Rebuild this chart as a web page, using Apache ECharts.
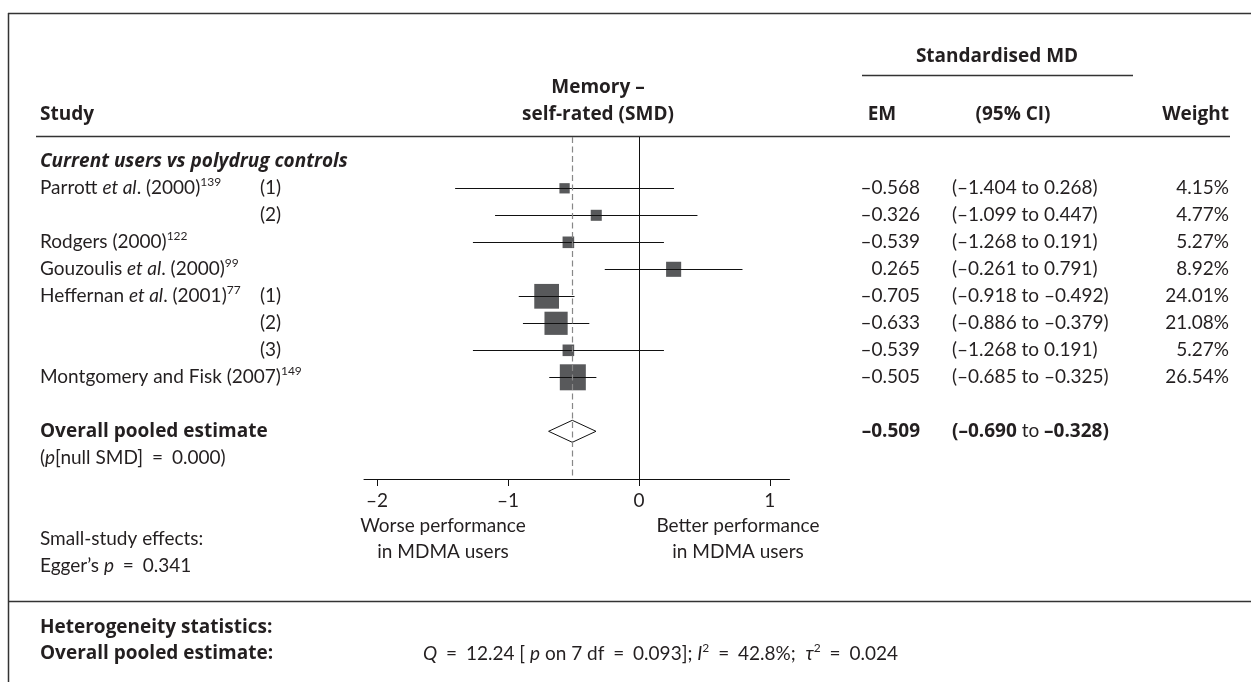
<!DOCTYPE html>
<html>
<head>
<meta charset="utf-8">
<script src="https://cdn.jsdelivr.net/npm/echarts@6/dist/echarts.min.js"></script>
<style>
html,body{margin:0;padding:0;background:#fff;}
#c{width:1251px;height:682px;}
</style>
</head>
<body>
<div id="c"></div>
<script>
// ---- data ----
var studyNames = ["Parrott ", "", "Rodgers (2000)", "Gouzoulis ", "Heffernan ", "", "", "Montgomery and Fisk (2007)"];
var studyEtAlYear = ["(2000)", "", "", "(2000)", "(2001)", "", "", ""];
var studyRefs = ["139", "", "122", "99", "77", "", "", "149"];
var studySubs = ["(1)", "(2)", "", "", "(1)", "(2)", "(3)", ""];
var estimates = [-0.568, -0.326, -0.539, 0.265, -0.705, -0.633, -0.539, -0.505];
var lowerCI = [-1.404, -1.099, -1.268, -0.261, -0.918, -0.886, -1.268, -0.685];
var upperCI = [0.268, 0.447, 0.191, 0.791, -0.492, -0.379, 0.191, -0.325];
var weights = [4.15, 4.77, 5.27, 8.92, 24.01, 21.08, 5.27, 26.54];
var pooledEstimate = [-0.509];
var pooledLower = [-0.690];
var pooledUpper = [-0.328];
var tickValues = [-2, -1, 0, 1];
var tickLabels = ["\u20132", "\u20131", "0", "1"];

var FONT = 'Lato, "Open Sans", sans-serif';
var BFONT = '"Open Sans", Lato, sans-serif';
var TXT = '#231f20';
var FS = 19;
var LH = 24;

function fmt(v){ return (v < 0 ? '\u2013' : '') + Math.abs(v).toFixed(3); }

var richBase = {
  n: {fontFamily: FONT, fontSize: FS, color: TXT, lineHeight: LH},
  e: {fontFamily: FONT, fontSize: FS, color: TXT, lineHeight: LH, padding: [0, 4, 0, 4]},
  i: {fontFamily: FONT, fontSize: FS, color: TXT, fontStyle: 'italic', lineHeight: LH},
  b: {fontFamily: BFONT, fontSize: FS, color: TXT, fontWeight: 'bold', lineHeight: LH},
  bi: {fontFamily: BFONT, fontSize: FS, color: TXT, fontWeight: 'bold', fontStyle: 'italic', lineHeight: LH},
  s: {fontFamily: FONT, fontSize: 12, color: TXT, lineHeight: 15, verticalAlign: 'top'}
};

function labelText(k){
  var t = '';
  if (!studyNames[k]) return '';
  if (studyEtAlYear[k]) {
    t = '{n|' + studyNames[k] + '}{i|et al}{n|. ' + studyEtAlYear[k] + '}';
  } else {
    t = '{n|' + studyNames[k] + '}';
  }
  if (studyRefs[k]) t += '{s|' + studyRefs[k] + '}';
  return t;
}

var rowData = estimates.map(function(e, k){ return [e, k, lowerCI[k], upperCI[k], weights[k]]; });
var pooledRow = 9;
var pooledData = [[pooledEstimate[0], pooledRow, pooledLower[0], pooledUpper[0]]];

function txt(x, y, text, align, extra){
  var st = {x: x, y: y, text: text, align: align || 'left', verticalAlign: 'middle', rich: richBase,
            fontFamily: FONT, fontSize: FS, fill: TXT};
  if (extra) for (var key in extra) st[key] = extra[key];
  return {type: 'text', style: st};
}

var chart = echarts.init(document.getElementById('c'));
var option = {
  backgroundColor: '#fff',
  animation: false,
  grid: {left: 364, right: 461.5, top: 137, height: 342},
  xAxis: {
    type: 'value', min: -2.1, max: 1.15,
    axisLine: {show: true, onZero: false, lineStyle: {color: '#111', width: 1}},
    axisTick: {show: true, length: 7, customValues: tickValues, lineStyle: {color: '#111'}},
    axisLabel: {show: true, customValues: tickValues, margin: 12, fontFamily: FONT, fontSize: FS, color: TXT,
      formatter: function(v){ var idx = tickValues.indexOf(v); return idx >= 0 ? tickLabels[idx] : ''; }},
    splitLine: {show: false}
  },
  yAxis: {type: 'value', min: -1.9, max: 10.7667, inverse: true, show: false},
  graphic: [
    // frame lines
    {type: 'line', shape: {x1: 8, y1: 13.5, x2: 1251, y2: 13.5}, style: {stroke: '#333', lineWidth: 1.5}},
    {type: 'line', shape: {x1: 8.5, y1: 13, x2: 8.5, y2: 682}, style: {stroke: '#333', lineWidth: 1.5}},
    {type: 'line', shape: {x1: 36, y1: 136.5, x2: 1230, y2: 136.5}, style: {stroke: '#333', lineWidth: 1.5}},
    {type: 'line', shape: {x1: 862, y1: 75.5, x2: 1133, y2: 75.5}, style: {stroke: '#333', lineWidth: 1.5}},
    {type: 'line', shape: {x1: 8, y1: 601.5, x2: 1251, y2: 601.5}, style: {stroke: '#333', lineWidth: 1.5}},
    // headers
    txt(40, 115, '{b|Study}'),
    txt(598, 88, '{b|Memory \u2013}', 'center'),
    txt(598, 115, '{b|self-rated (SMD)}', 'center'),
    txt(997, 57, '{b|Standardised MD}', 'center'),
    txt(882, 115, '{b|EM}', 'center'),
    txt(1013, 115, '{b|(95% CI)}', 'center'),
    txt(1229, 115, '{b|Weight}', 'right'),
    txt(40, 162, '{bi|Current users vs polydrug controls}'),
    // bottom text
    txt(40, 539, '{n|Small-study effects:}'),
    txt(40, 566, '{n|Egger\u2019s }{i|p}{e| = }{n|0.341}'),
    txt(443, 526, '{n|Worse performance}', 'center'),
    txt(443, 552, '{n|in MDMA users}', 'center'),
    txt(738, 526, '{n|Better performance}', 'center'),
    txt(738, 552, '{n|in MDMA users}', 'center'),
    txt(40, 628, '{b|Heterogeneity statistics:}'),
    txt(40, 654, '{b|Overall pooled estimate:}'),
    txt(423, 654, '{i|Q}{e| = }{n|12.24 [ }{i|p}{n| on 7 df}{e| = }{n|0.093]; }{i|I}{s|2}{e| = }{n|42.8%;  }{i|\u03c4}{s|2}{e| = }{n|0.024}')
  ],
  series: [
    {
      type: 'custom', name: 'studies', data: rowData, encode: {x: 0, y: 1}, clip: false,
      renderItem: function(params, api){
        var k = params.dataIndex;
        var c = api.coord([api.value(0), api.value(1)]);
        var l = api.coord([api.value(2), api.value(1)]);
        var h = api.coord([api.value(3), api.value(1)]);
        var side = 5.05 * Math.sqrt(api.value(4));
        var y = Math.round(c[1]) + 0.5;
        var children = [
          {type: 'rect', shape: {x: c[0] - side/2, y: c[1] - side/2, width: side, height: side}, style: {fill: '#58595b'}},
          {type: 'line', shape: {x1: l[0], y1: y, x2: h[0], y2: y}, style: {stroke: '#111', lineWidth: 1}},
          txt(40, c[1], labelText(k)),
          txt(260, c[1], studySubs[k] ? '{n|' + studySubs[k] + '}' : ''),
          txt(920, c[1], '{n|' + fmt(estimates[k]) + '}', 'right'),
          txt(952, c[1], '{n|(' + fmt(lowerCI[k]) + ' to ' + fmt(upperCI[k]) + ')}'),
          txt(1229, c[1], '{n|' + weights[k].toFixed(2) + '%}', 'right')
        ];
        return {type: 'group', children: children};
      },
      markLine: {
        silent: true, symbol: 'none', label: {show: false},
        data: [
          {xAxis: 0, lineStyle: {color: '#111', width: 1, type: 'solid'}},
          {xAxis: pooledEstimate[0], lineStyle: {color: '#888', width: 1.2, type: [6, 3.5]}}
        ]
      }
    },
    {
      type: 'custom', name: 'pooled', data: pooledData, encode: {x: 0, y: 1}, clip: false, z: 3,
      renderItem: function(params, api){
        var c = api.coord([api.value(0), api.value(1)]);
        var l = api.coord([api.value(2), api.value(1)]);
        var h = api.coord([api.value(3), api.value(1)]);
        var hh = 11;
        return {type: 'group', children: [
          {type: 'polygon', shape: {points: [[l[0], c[1]], [c[0], c[1] - hh], [h[0], c[1]], [c[0], c[1] + hh]]},
           style: {fill: '#fff', stroke: '#111', lineWidth: 1}},
          txt(40, c[1], '{b|Overall pooled estimate}'),
          txt(40, api.coord([0, api.value(1) + 1])[1], '{n|(}{i|p}{n|[null SMD]}{e| = }{n|0.000)}'),
          txt(920, c[1], '{b|' + fmt(pooledEstimate[0]) + '}', 'right'),
          txt(952, c[1], '{b|(' + fmt(pooledLower[0]) + '}{n| to }{b|' + fmt(pooledUpper[0]) + ')}')
        ]};
      }
    }
  ]
};
chart.setOption(option);
</script>
</body>
</html>
